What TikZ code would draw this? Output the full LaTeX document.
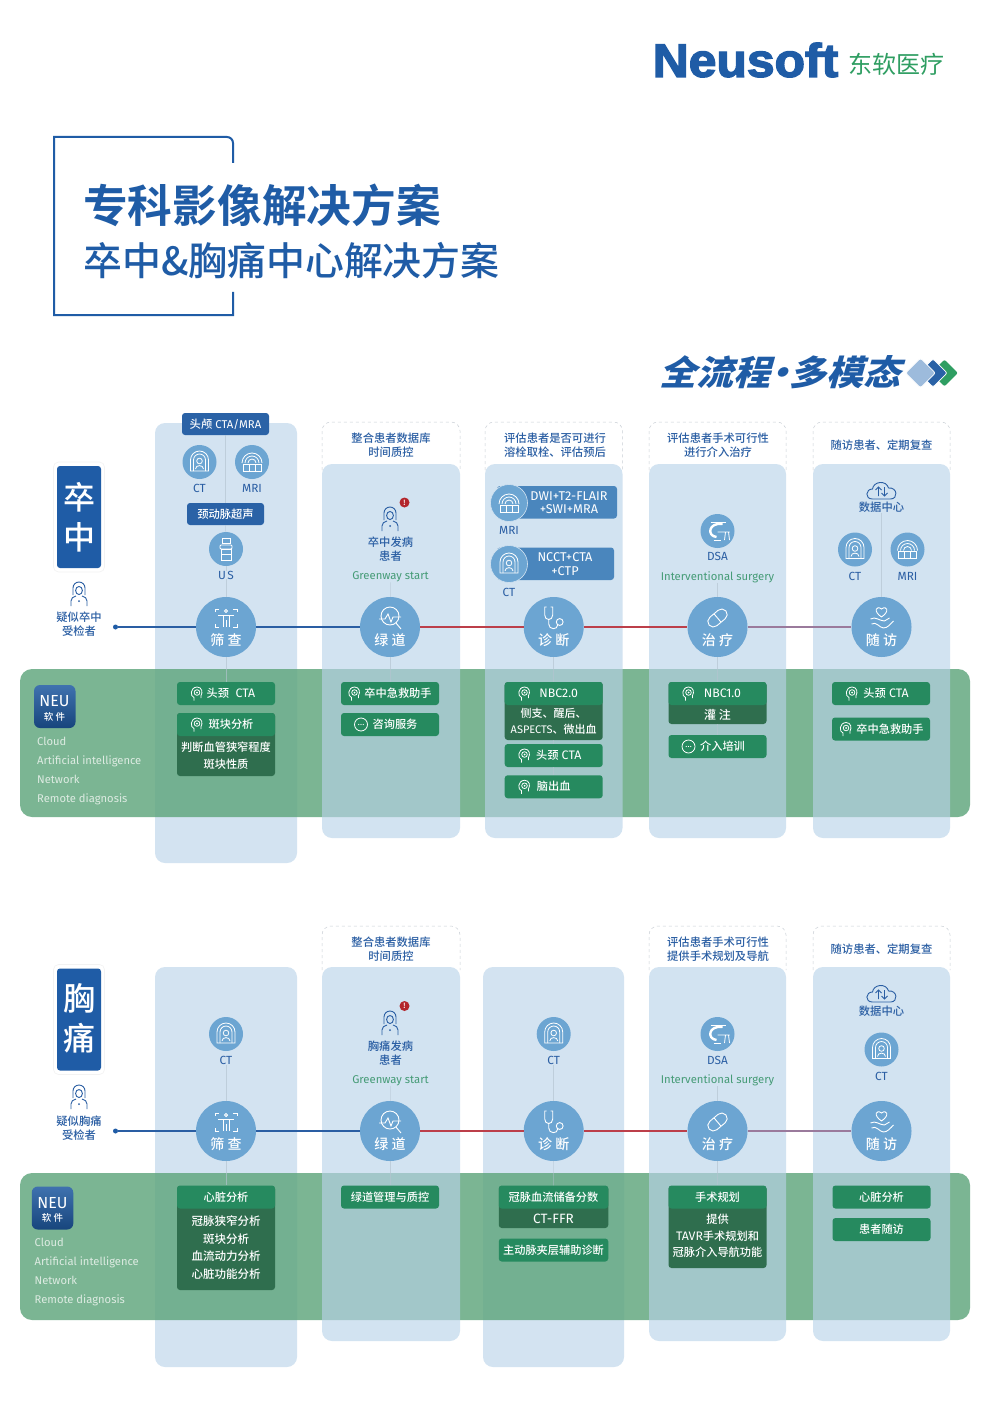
\documentclass[tikz,border=0pt]{standalone}
\usepackage{fontspec}
\setmainfont{Noto Sans CJK SC Medium}[BoldFont=Noto Sans CJK SC Bold]
\newfontfamily\thinfont{Noto Sans CJK SC}
\newfontfamily\latfont{Fira Sans}
\newfontfamily\btnlat[Scale=1.1]{Fira Sans}
\newfontfamily\logofont[FakeBold=3, FakeStretch=1.06]{Liberation Sans Bold}
\newfontfamily\slantfont[FakeSlant=0.28, FakeStretch=1.07]{Noto Sans CJK SC Black}
\newcommand{\lat}[1]{{\btnlat #1}}
\definecolor{neuBlue}{HTML}{1F5CA6}
\definecolor{pillBlue}{HTML}{2A62A6}
\definecolor{midBlue}{HTML}{4A86BD}
\definecolor{discBlue}{HTML}{6CA5D2}
\definecolor{labelBlue}{HTML}{2A5EA3}
\definecolor{laneLight}{HTML}{B9D3E9}
\definecolor{laneDark}{HTML}{D3E3F1}
\definecolor{bandGreen}{HTML}{5EA57C}
\definecolor{btnGreen}{HTML}{268A5F}
\definecolor{bodyGreen}{HTML}{2F6E4E}
\definecolor{textGreen}{HTML}{459B76}
\definecolor{softText}{HTML}{DDEBE2}
\definecolor{hairGrey}{HTML}{B4C4D0}
\definecolor{rimGrey}{HTML}{C9CFD5}
\definecolor{lineRed}{HTML}{BC3F4A}
\definecolor{linePurple}{HTML}{9A7A9C}
\definecolor{alertRed}{HTML}{B3262C}
\definecolor{logoGreen}{HTML}{2F9E62}
\definecolor{diamondPale}{HTML}{9DBBDC}
\tikzset{
  glyph/.style={draw=white, line width=.8, fill=none},
  pline/.style={draw=labelBlue, line width=.9, fill=none},
  ctglyph/.pic={
    \draw[glyph] (-9,9) -- (-9,-2) arc (180:360:9) -- (9,9) -- cycle;
    \draw[glyph] (-6,9) -- (-6,-2) arc (180:360:6) -- (6,9);
    \draw[glyph] (0,-1) circle (2.8);
    \draw[glyph] (-4,7) .. controls (-4,2.5) and (4,2.5) .. (4,7);
  },
  mriglyph/.pic={
    \draw[glyph] (-10,1) arc (180:360:10);
    \draw[glyph] (-7,1) arc (180:360:7);
    \draw[glyph] (-4,1) arc (180:360:4);
    \draw[glyph] (-9,2) rectangle (9,9);
    \draw[glyph] (-3,2) -- (-3,9) (3,2) -- (3,9);
  },
  usglyph/.pic={
    \draw[glyph] (-4,-11) rectangle (4,-6);
    \draw[glyph, rounded corners=1] (-6,-4) rectangle (6,0);
    \draw[glyph] (-5,0) rectangle (5,11);
    \draw[glyph] (-5,5) -- (5,5);
  },
  dsaglyph/.pic={
    \draw[glyph, line width=2.4] (5,-7) .. controls (-9,-9) and (-11,5) .. (-1,6);
    \draw[glyph] (-7,-9) -- (8,-9);
    \draw[glyph] (0,1) -- (12,1) (8,1) -- (7,9) (11,1) -- (12,9);
    \draw[glyph] (-4,9) -- (3,9);
  },
  personglyph/.pic={
    \draw[pline] (-6,1) -- (-6,-6) arc (180:360:6) -- (6,1);
    \draw[pline] (0,-3.5) ellipse (3.4 and 4);
    \draw[pline] (-8,12) -- (-8,7) .. controls (-8,4) and (-6,3) .. (-3,2);
    \draw[pline] (8,12) -- (8,7) .. controls (8,4) and (6,3) .. (3,2);
    \fill[labelBlue] (0,7) circle (1);
  },
  brainglyph/.pic={
    \draw[glyph] (-3,7) -- (-3,4) .. controls (-7,3) and (-7,-6) .. (0,-6.5) .. controls (5,-6.5) and (6,-1) .. (4,2) -- (4,4.5);
    \draw[glyph] (0,-1) circle (2.8);
    \fill[white] (0,-1) circle (1);
  },
  chatglyph/.pic={
    \draw[glyph] (0,0) circle (6.5);
    \fill[white] (-2.2,0) circle (.6) (0,0) circle (.6) (2.2,0) circle (.6);
  },
  scanglyph/.pic={
    \draw[glyph, line width=.9] (-11,-6) -- (-11,-9) -- (-7,-9) (7,-9) -- (11,-9) -- (11,-6)
      (-11,6) -- (-11,9) -- (-7,9) (7,9) -- (11,9) -- (11,6);
    \draw[glyph, line width=.9] (0,-7) circle (1.6);
    \draw[glyph, line width=.9] (-8,-3) -- (8,-3) (-3,-3) -- (-3,9) (3,-3) -- (3,9) (0,2) -- (0,9);
  },
  searchglyph/.pic={
    \draw[glyph, line width=.9] (0,-2) circle (9);
    \draw[glyph, line width=.9] (-11,1) -- (-5,1) -- (-2,-4) -- (1,4) -- (3,-1) -- (11,-1);
    \draw[glyph, line width=.9] (6,5) -- (11,11);
  },
  stethglyph/.pic={
    \draw[glyph, line width=.9] (-7,-11) -- (-9,-11) -- (-9,-3) .. controls (-9,3) and (-1,3) .. (-1,-3) -- (-1,-11) -- (-3,-11);
    \draw[glyph, line width=.9] (-5,1) -- (-5,6) .. controls (-5,12) and (4,12) .. (4,7);
    \draw[glyph, line width=.9] (6,4) circle (3.4);
  },
  pillglyph/.pic={
    \draw[glyph, line width=.9, rounded corners=5.5, rotate=40] (-11,-5.5) rectangle (11,5.5);
    \draw[glyph, line width=.9, rotate=40] (0,-5.5) -- (0,5.5);
  },
  heartglyph/.pic={
    \draw[glyph, line width=.9] (0,-1) .. controls (-9,-7) and (-5,-13) .. (0,-9) .. controls (5,-13) and (9,-7) .. (0,-1);
    \draw[glyph, line width=.9] (-11,1) .. controls (-6,-2) and (-2,3) .. (3,3) -- (8,0);
    \draw[glyph, line width=.9] (-10,6) .. controls (-5,3) and (-2,10) .. (2,10) .. controls (6,10) and (9,6) .. (12,3);
  },
  cloudglyph/.pic={
    \draw[pline] (-9,8) .. controls (-17,8) and (-16,-2) .. (-9,-2) .. controls (-8,-10) and (5,-11) .. (7,-3) .. controls (16,-4) and (17,8) .. (9,8) -- cycle;
    \draw[pline] (-3,5) -- (-3,-4) (-6,-1) -- (-3,-4) -- (0,-1);
    \draw[pline] (3,-4) -- (3,5) (0,2) -- (3,5) -- (6,2);
  }
}
\begin{document}
\begin{tikzpicture}[x=1pt, y=-1pt, inner sep=0pt,
    lane/.style={rounded corners=10, fill=laneLight, fill opacity=.63},
    lanedark/.style={rounded corners=10, fill=laneDark},
    softband/.style={rounded corners=12, fill=bandGreen, fill opacity=.82, minimum width=950},
    hairline/.style={draw=hairGrey, line width=.5, draw opacity=.65},
    rimline/.style={draw=rimGrey, line width=.5, dashed, rounded corners=9},
    stagedisc/.style={circle, fill=discBlue, minimum size=60},
    stagetext/.style={text=white, font=\fontsize{14}{14}\selectfont},
    icondisc/.style={circle, fill=discBlue, minimum size=34},
    icondisclarge/.style={circle, fill=discBlue, draw=laneDark, line width=.6, minimum size=37},
    toplabel/.style={text=labelBlue, align=center, font=\fontsize{11.3}{14.3}\selectfont},
    devlabel/.style={text=labelBlue, font=\fontsize{11.8}{14}\selectfont\latfont},
    greenlabel/.style={text=textGreen, font=\fontsize{11.3}{14}\selectfont\latfont},
    bluepill/.style={rounded corners=3, fill=pillBlue, text=white, font=\fontsize{11.3}{14}\selectfont},
    midpill/.style={rounded corners=3, fill=midBlue, text=white, align=center, font=\fontsize{12.7}{13.4}\selectfont\latfont},
    greenbtn/.style={rounded corners=3, fill=btnGreen, text=white, minimum width=98, minimum height=23, font=\fontsize{11.2}{14}\selectfont},
    darkbox/.style={rounded corners=3, fill=bodyGreen, minimum width=98},
    darktext/.style={text=white, align=center, font=\fontsize{11.2}{17.3}\selectfont},
    softline/.style={anchor=west, text=softText, text height=8, text depth=2.5, font=\fontsize{11.2}{14}\selectfont\latfont},
    tagbox/.style={rounded corners=3, fill=neuBlue, text=white, minimum width=44, minimum height=102},
    tagrim/.style={rounded corners=5, draw=black!5, line width=.6, minimum width=51, minimum height=110},
    tagchar/.style={text=white, font=\fontsize{32}{32}\selectfont},
    badge/.style={rounded corners=6, top color=pillBlue!90!white, bottom color=neuBlue!75!black, minimum width=41.5, minimum height=43},
    alert/.style={circle, fill=alertRed, text=white, minimum size=10, font=\fontsize{7}{7}\selectfont\bfseries},
    startdot/.style={circle, fill=neuBlue, minimum size=5},
    bluetime/.style={draw=labelBlue, line width=1.1},
    redtime/.style={draw=lineRed, line width=1.1},
    fadetime/.style={draw=linePurple, line width=1.1}]
  \useasboundingbox (0,0) rectangle (1000,1412);
  \fill[white] (0,0) rectangle (1000,1412);

  % logo and title
  \node (logoWord) [text=neuBlue, font=\fontsize{47}{48}\selectfont\logofont] at (745.5,60) {Neusoft};
  \node (logoCn) [text=logoGreen, font=\fontsize{24}{24}\selectfont\thinfont] at (896.5,64) {东软医疗};
  \draw[neuBlue, line width=2] (233,163) [rounded corners=6] -- (233,137) [sharp corners] -- (54,137) -- (54,315) -- (233,315) -- (233,292);
  \node (titleMain) [anchor=west, text=neuBlue, font=\fontsize{44.7}{46}\selectfont\bfseries] at (83,205) {专科影像解决方案};
  \node (titleSub) [anchor=west, text=neuBlue, font=\fontsize{38.9}{40}\selectfont] at (83,260.5) {卒中\&胸痛中心解决方案};
  \node (sloganText) [text=neuBlue, font=\fontsize{34.5}{35}\selectfont\slantfont] at (780,372) {全流程\kern-8.5pt·\kern-8.5pt多模态};
  \node (diamondC) [fill=logoGreen, rotate=45, rounded corners=2, minimum size=19] at (944.5,373) {};
  \node (diamondB) [fill=pillBlue, draw=white, line width=.8, rotate=45, rounded corners=2, minimum size=20] at (933,373) {};
  \node (diamondA) [fill=diamondPale, draw=white, line width=.8, rotate=45, rounded corners=2, minimum size=21] at (920.5,373) {};

  % lanes and band, stroke row
  \node (aLane1) [lanedark, minimum width=142, minimum height=440] at (226,643) {};
  \node (aBand) [softband, minimum height=148] at (495,743) {};
  \node (aLane2) [lane, minimum width=138, minimum height=374] at (391,651) {};
  \node (aLane3) [lane, minimum width=137.5, minimum height=374] at (553.75,651) {};
  \node (aLane4) [lane, minimum width=137, minimum height=374] at (717.5,651) {};
  \node (aLane5) [lane, minimum width=137, minimum height=374] at (881.5,651) {};
  \draw[rimline] (322,470) -- (322,422) -- (460,422) -- (460,470);
  \draw[rimline] (485,470) -- (485,422) -- (622.5,422) -- (622.5,470);
  \draw[rimline] (649,470) -- (649,422) -- (786,422) -- (786,470);
  \draw[rimline] (813,470) -- (813,422) -- (950,422) -- (950,470);

  % lanes and band, chest row
  \node (bLane1) [lanedark, minimum width=142, minimum height=400] at (226,1167) {};
  \node (bLane3) [lanedark, minimum width=141, minimum height=400] at (553.5,1167) {};
  \node (bBand) [softband, minimum height=147] at (495,1246.5) {};
  \node (bLane2) [lane, minimum width=138, minimum height=374] at (391,1154) {};
  \node (bLane4) [lane, minimum width=137, minimum height=374] at (717.5,1154) {};
  \node (bLane5) [lane, minimum width=137, minimum height=374] at (881.5,1154) {};
  \draw[rimline] (322,970) -- (322,926) -- (460,926) -- (460,970);
  \draw[rimline] (649,970) -- (649,926) -- (786,926) -- (786,970);
  \draw[rimline] (813,970) -- (813,926) -- (950,926) -- (950,970);

  % stroke row, left side
  \node (aRim) [tagrim] at (79,517) {};
  \node (aTag) [tagbox] at (79,517) {};
  \node (aTagOne) [tagchar] at (79,497) {卒};
  \node (aTagTwo) [tagchar] at (79,537) {中};
  \pic at (79,594) {personglyph};
  \node (aSuspect) [toplabel] at (79,624) {疑似卒中\\受检者};
  \node (aStart) [startdot] at (115.5,627) {};
  \node (aBadge) [badge] at (54.75,706.5) {};
  \node (aBadgeNeu) [text=white, font=\fontsize{16}{16}\selectfont\latfont] at (54.5,701.5) {NEU};
  \node (aBadgeSoft) [text=white, font=\fontsize{9.5}{10}\selectfont] at (54.5,716.5) {软 件};
  \node (aSoftA) [softline] at (37,742.5) {Cloud};
  \node (aSoftB) [softline] at (37,761.5) {Artificial intelligence};
  \node (aSoftC) [softline] at (37,780.5) {Network};
  \node (aSoftD) [softline] at (37,799.5) {Remote diagnosis};

  % stroke row, screening
  \node (aHead) [bluepill, minimum width=87, minimum height=22] at (225.5,424) {头颅{\latfont\ CTA/MRA}};
  \node (aCT) [icondisc] at (199.5,462) {};
  \pic at (199.5,462) {ctglyph};
  \node (aMRI) [icondisc] at (252,462) {};
  \pic at (252,462) {mriglyph};
  \node (aCTlabel) [devlabel] at (199.5,488.5) {CT};
  \node (aMRIlabel) [devlabel] at (252,488.5) {MRI};
  \node (aCarotid) [bluepill, minimum width=77, minimum height=22] at (225.5,514) {颈动脉超声};
  \node (aUS) [icondisc] at (226,549) {};
  \pic at (226,549) {usglyph};
  \node (aUSlabel) [devlabel] at (226,575) {U\kern1.5pt S};
  \node (aS1) [stagedisc] at (226,627) {};
  \pic at (226,618) {scanglyph};
  \node (aS1text) [stagetext] at (226,640) {筛 查};
  \node (aB1) [greenbtn] at (226,693.5) {\hspace{10pt}头颈\lat{\ \ CTA}};
  \pic at (197,693.5) {brainglyph};
  \node (aB2body) [darkbox, minimum height=63] at (226,744.5) {};
  \node (aB2) [greenbtn] at (226,724.5) {\hspace{10pt}斑块分析};
  \pic at (197,724.5) {brainglyph};
  \node (aB2text) [darktext] at (226,756) {判断血管狭窄程度\\斑块性质};

  % stroke row, green channel
  \node (aNote2) [toplabel] at (391,445) {整合患者数据库\\时间质控};
  \pic at (390,519) {personglyph};
  \node (aAlert) [alert] at (404.5,502.5) {!};
  \node (aPatient) [toplabel] at (390.5,549.5) {卒中发病\\患者};
  \node (aGreen) [greenlabel] at (390.5,577) {Greenway start};
  \node (aS2) [stagedisc] at (390,627) {};
  \pic at (390,618) {searchglyph};
  \node (aS2text) [stagetext] at (390,640) {绿 道};
  \node (aB3) [greenbtn] at (390,693.5) {\hspace{16pt}卒中急救助手};
  \pic at (354.5,693.5) {brainglyph};
  \node (aB4) [greenbtn] at (390,724.5) {\hspace{10pt}咨询服务};
  \pic at (361,724.5) {chatglyph};

  % stroke row, diagnosis
  \node (aNote3) [toplabel] at (555,445) {评估患者是否可进行\\溶栓取栓、评估预后};
  \node (aPillMRI) [midpill, minimum width=120, minimum height=32.5] at (557,502.25) {};
  \node (aPillMRItext) [midpill, fill=none] at (569,502.5) {DWI+T2-FLAIR\\+SWI+MRA};
  \node (aDiscMRI) [icondisclarge] at (509,503) {};
  \pic at (509,503) {mriglyph};
  \node (aMRIlabelB) [devlabel] at (509,530) {MRI};
  \node (aPillCT) [midpill, minimum width=117, minimum height=32.5] at (555.5,563.75) {};
  \node (aPillCTtext) [midpill, fill=none] at (565,564) {NCCT+CTA\\+CTP};
  \node (aDiscCT) [icondisclarge] at (509,564) {};
  \pic at (509,564) {ctglyph};
  \node (aCTlabelB) [devlabel] at (509,592) {CT};
  \node (aS3) [stagedisc] at (553.7,627) {};
  \pic at (553.7,618) {stethglyph};
  \node (aS3text) [stagetext] at (553.7,640) {诊 断};
  \node (aB5body) [darkbox, minimum height=58] at (553.7,711) {};
  \node (aB5) [greenbtn] at (553.7,693.5) {\hspace{10pt}\lat{NBC2.0}};
  \pic at (524.5,693.5) {brainglyph};
  \node (aB5text) [darktext, font=\fontsize{11}{16.5}\selectfont] at (553.7,721.5) {侧支、醒后、\\{\latfont ASPECTS}、微出血};
  \node (aB6) [greenbtn] at (553.7,755.5) {\hspace{10pt}头颈\lat{ CTA}};
  \pic at (524.5,755.5) {brainglyph};
  \node (aB7) [greenbtn] at (553.7,786.75) {脑出血};
  \pic at (524.5,786.75) {brainglyph};

  % stroke row, treatment
  \node (aNote4) [toplabel] at (718,445) {评估患者手术可行性\\进行介入治疗};
  \node (aDSA) [icondisc] at (717.5,531) {};
  \pic at (717.5,531) {dsaglyph};
  \node (aDSAlabel) [devlabel] at (717.5,556.5) {DSA};
  \node (aSurgery) [greenlabel] at (717.5,577) {Interventional surgery};
  \node (aS4) [stagedisc] at (717.5,627) {};
  \pic at (717.5,618) {pillglyph};
  \node (aS4text) [stagetext] at (717.5,640) {治 疗};
  \node (aB8body) [darkbox, minimum height=42] at (717.5,703) {};
  \node (aB8) [greenbtn] at (717.5,693.5) {\hspace{10pt}\lat{NBC1.0}};
  \pic at (688.5,693.5) {brainglyph};
  \node (aB8text) [darktext, font=\fontsize{12}{14}\selectfont] at (717.5,715) {灌 注};
  \node (aB9) [greenbtn] at (717.5,746.5) {\hspace{10pt}介入培训};
  \pic at (688.5,746.5) {chatglyph};

  % stroke row, follow-up
  \node (aNote5) [toplabel] at (881.5,445.5) {随访患者、定期复查};
  \pic at (881.5,491) {cloudglyph};
  \node (aData) [toplabel] at (881.5,507.5) {数据中心};
  \node (aCTc) [icondisc] at (855,549.5) {};
  \pic at (855,549.5) {ctglyph};
  \node (aMRIc) [icondisc] at (907.5,549.5) {};
  \pic at (907.5,549.5) {mriglyph};
  \node (aCTclabel) [devlabel] at (855,576) {CT};
  \node (aMRIclabel) [devlabel] at (907.5,576) {MRI};
  \node (aS5) [stagedisc] at (881.5,627) {};
  \pic at (881.5,618) {heartglyph};
  \node (aS5text) [stagetext] at (881.5,640) {随 访};
  \node (aB10) [greenbtn] at (881,693.5) {\hspace{10pt}头颈\lat{ CTA}};
  \pic at (852,693.5) {brainglyph};
  \node (aB11) [greenbtn] at (881,729) {\hspace{18pt}卒中急救助手};
  \pic at (846,729) {brainglyph};

  % chest row, left side
  \node (bRim) [tagrim] at (79,1019.5) {};
  \node (bTag) [tagbox] at (79,1019.5) {};
  \node (bTagOne) [tagchar] at (79,998) {胸};
  \node (bTagTwo) [tagchar] at (79,1038) {痛};
  \pic at (79,1097) {personglyph};
  \node (bSuspect) [toplabel] at (79,1128) {疑似胸痛\\受检者};
  \node (bStart) [startdot] at (115.5,1131) {};
  \node (bBadge) [badge] at (52.5,1208) {};
  \node (bBadgeNeu) [text=white, font=\fontsize{16}{16}\selectfont\latfont] at (52.5,1203) {NEU};
  \node (bBadgeSoft) [text=white, font=\fontsize{9.5}{10}\selectfont] at (52.5,1218) {软 件};
  \node (bSoftA) [softline] at (34.5,1244) {Cloud};
  \node (bSoftB) [softline] at (34.5,1263) {Artificial intelligence};
  \node (bSoftC) [softline] at (34.5,1282) {Network};
  \node (bSoftD) [softline] at (34.5,1301) {Remote diagnosis};

  % chest row, screening
  \node (bCT) [icondisc] at (226,1034) {};
  \pic at (226,1034) {ctglyph};
  \node (bCTlabel) [devlabel] at (226,1060.5) {CT};
  \node (bS1) [stagedisc] at (226,1131) {};
  \pic at (226,1122) {scanglyph};
  \node (bS1text) [stagetext] at (226,1144) {筛 查};
  \node (bB1body) [darkbox, minimum height=104] at (226,1238) {};
  \node (bB1) [greenbtn] at (226,1197) {心脏分析};
  \node (bB1text) [darktext, font=\fontsize{11.5}{17.4}\selectfont] at (226,1247.5) {冠脉狭窄分析\\斑块分析\\血流动力分析\\心脏功能分析};

  % chest row, green channel
  \node (bNote2) [toplabel] at (391,949) {整合患者数据库\\时间质控};
  \pic at (390,1023) {personglyph};
  \node (bAlert) [alert] at (404.5,1006) {!};
  \node (bPatient) [toplabel] at (390.5,1053) {胸痛发病\\患者};
  \node (bGreen) [greenlabel] at (390.5,1080.5) {Greenway start};
  \node (bS2) [stagedisc] at (390,1131) {};
  \pic at (390,1122) {searchglyph};
  \node (bS2text) [stagetext] at (390,1144) {绿 道};
  \node (bB2) [greenbtn] at (390,1197) {绿道管理与质控};

  % chest row, diagnosis
  \node (bCTb) [icondisc] at (553.7,1034) {};
  \pic at (553.7,1034) {ctglyph};
  \node (bCTblabel) [devlabel] at (553.7,1060.5) {CT};
  \node (bS3) [stagedisc] at (553.7,1131) {};
  \pic at (553.7,1122) {stethglyph};
  \node (bS3text) [stagetext] at (553.7,1144) {诊 断};
  \node (bB3body) [darkbox, minimum width=109.5, minimum height=42] at (553.5,1207) {};
  \node (bB3) [greenbtn, minimum width=109.5] at (553.5,1197) {冠脉血流储备分数};
  \node (bB3text) [darktext, font=\fontsize{13.5}{14}\selectfont\latfont] at (553.5,1218.5) {CT-FFR};
  \node (bB4) [greenbtn, minimum width=109.5] at (553.5,1250) {主动脉夹层辅助诊断};

  % chest row, treatment
  \node (bNote4) [toplabel] at (718,949) {评估患者手术可行性\\提供手术规划及导航};
  \node (bDSA) [icondisc] at (717.5,1034) {};
  \pic at (717.5,1034) {dsaglyph};
  \node (bDSAlabel) [devlabel] at (717.5,1060.5) {DSA};
  \node (bSurgery) [greenlabel] at (717.5,1080.5) {Interventional surgery};
  \node (bS4) [stagedisc] at (717.5,1131) {};
  \pic at (717.5,1122) {pillglyph};
  \node (bS4text) [stagetext] at (717.5,1144) {治 疗};
  \node (bB5body) [darkbox, minimum height=82] at (717.5,1227) {};
  \node (bB5) [greenbtn] at (717.5,1197) {手术规划};
  \node (bB5text) [darktext, font=\fontsize{11.2}{16.3}\selectfont] at (717.5,1236) {提供\\\lat{TAVR}手术规划和\\冠脉介入导航功能};

  % chest row, follow-up
  \node (bNote5) [toplabel] at (881.5,949) {随访患者、定期复查};
  \pic at (881.5,994) {cloudglyph};
  \node (bData) [toplabel] at (881.5,1011) {数据中心};
  \node (bCTc) [icondisc] at (881.5,1049.5) {};
  \pic at (881.5,1049.5) {ctglyph};
  \node (bCTclabel) [devlabel] at (881.5,1076) {CT};
  \node (bS5) [stagedisc] at (881.5,1131) {};
  \pic at (881.5,1122) {heartglyph};
  \node (bS5text) [stagetext] at (881.5,1144) {随 访};
  \node (bB6) [greenbtn] at (881.5,1197) {心脏分析};
  \node (bB7) [greenbtn] at (881.5,1229.5) {患者随访};

  % timelines
  \draw[bluetime] (aStart) -- (aS1);
  \draw[bluetime] (aS1) -- (aS2);
  \draw[redtime] (aS2) -- (aS3);
  \draw[redtime] (aS3) -- (aS4);
  \draw[fadetime] (aS4) -- (aS5);
  \draw[bluetime] (bStart) -- (bS1);
  \draw[bluetime] (bS1) -- (bS2);
  \draw[redtime] (bS2) -- (bS3);
  \draw[redtime] (bS3) -- (bS4);
  \draw[fadetime] (bS4) -- (bS5);

  % thin links in the lanes
  \draw[hairline] (aHead) -- (aCarotid);
  \draw[hairline] (aCarotid) -- (aUS);
  \draw[hairline] (aUS) -- (aUSlabel);
  \draw[hairline] (aUSlabel) -- (aS1);
  \draw[hairline] (aS1) -- (aB1);
  \draw[hairline] (aGreen) -- (aS2);
  \draw[hairline] (aS2) -- (aB3);
  \draw[hairline] (aS3) -- (aB5);
  \draw[hairline] (aB5body) -- (aB6);
  \draw[hairline] (aB6) -- (aB7);
  \draw[hairline] (aSurgery) -- (aS4);
  \draw[hairline] (aS4) -- (aB8);
  \draw[hairline] (aB8body) -- (aB9);
  \draw[hairline] (aData) -- (aS5);
  \draw[hairline] (bCTlabel) -- (bS1);
  \draw[hairline] (bS1) -- (bB1);
  \draw[hairline] (bGreen) -- (bS2);
  \draw[hairline] (bS2) -- (bB2);
  \draw[hairline] (bCTblabel) -- (bS3);
  \draw[hairline] (bS3) -- (bB3);
  \draw[hairline] (bSurgery) -- (bS4);
  \draw[hairline] (bS4) -- (bB5);
\end{tikzpicture}
\end{document}
